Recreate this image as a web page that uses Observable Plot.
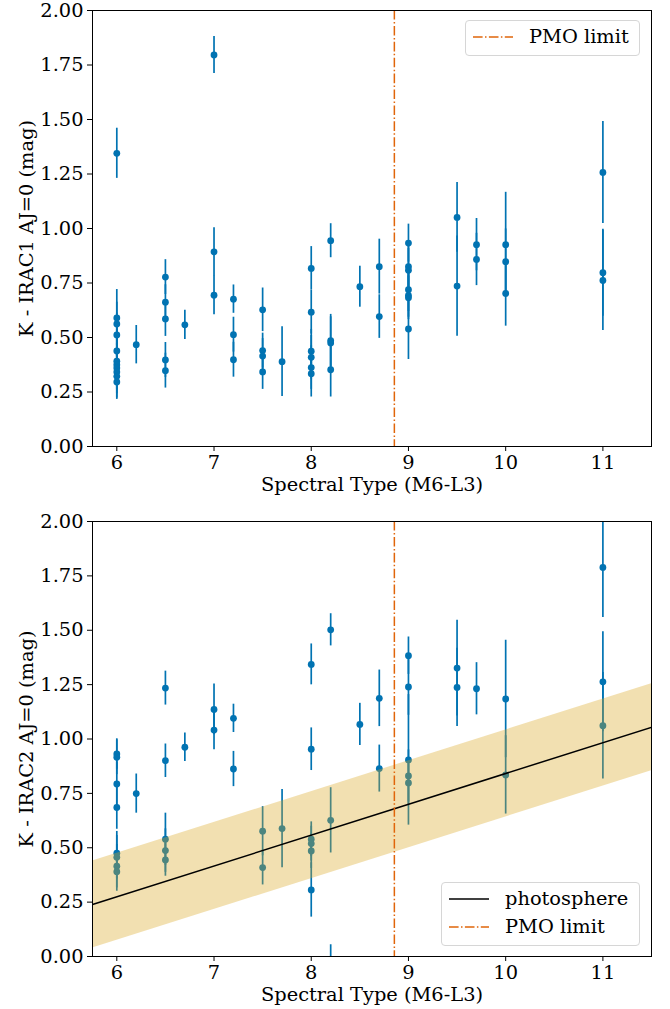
<!DOCTYPE html>
<html><head><meta charset="utf-8">
<script src="https://cdn.jsdelivr.net/npm/d3@7"></script>
<script src="https://cdn.jsdelivr.net/npm/@observablehq/plot@0.6"></script>
<style>
body{margin:0;background:#fff;}
#wrap{position:relative;width:670px;height:1009px;font-family:"DejaVu Serif","Liberation Serif",serif;}
#wrap svg{display:block;}
.legend{position:absolute;border:1px solid #d6d6d6;border-radius:4px;background:rgba(255,255,255,0.85);font-size:19.4px;color:#000;box-sizing:border-box;}
.legend .row{position:absolute;left:0;display:flex;align-items:center;white-space:nowrap;}
.legend svg{display:inline-block;}
</style></head><body><div id="wrap"></div>
<script>
// ---- data: top panel (K - IRAC1) ----
const irac1X   = [6,6,6,6,6,6,6,6,6,6,6, 6.2, 6.5,6.5,6.5,6.5,6.5, 6.7, 7,7,7, 7.2,7.2,7.2, 7.5,7.5,7.5,7.5, 7.7, 8,8,8,8,8,8, 8.2,8.2,8.2,8.2, 8.5, 8.7,8.7, 9,9,9,9,9,9,9, 9.5,9.5, 9.7,9.7, 10,10,10, 11,11,11];
const irac1Y   = [1.345,0.590,0.562,0.512,0.438,0.391,0.375,0.360,0.342,0.322,0.296, 0.467, 0.777,0.662,0.585,0.397,0.348, 0.558, 1.796,0.893,0.694, 0.676,0.513,0.398, 0.627,0.440,0.415,0.342, 0.389, 0.817,0.616,0.437,0.409,0.362,0.334, 0.944,0.486,0.475,0.352, 0.733, 0.825,0.596, 0.933,0.825,0.808,0.719,0.693,0.682,0.539, 1.051,0.736, 0.926,0.858, 0.926,0.848,0.702, 1.257,0.797,0.762];
const irac1Err = [0.115,0.13,0.10,0.10,0.10,0.10,0.10,0.10,0.10,0.10,0.08, 0.088, 0.08,0.08,0.08,0.08,0.08, 0.067, 0.085,0.11,0.09, 0.065,0.08,0.08, 0.10,0.08,0.08,0.08, 0.16, 0.10,0.10,0.10,0.10,0.10,0.107, 0.078,0.12,0.12,0.125, 0.094, 0.126,0.10, 0.087,0.10,0.10,0.10,0.10,0.10,0.14, 0.16,0.23, 0.12,0.12, 0.24,0.15,0.15, 0.234,0.20,0.23];

// ---- data: bottom panel (K - IRAC2) ----
const irac2X   = [6,6,6,6,6,6,6,6, 6.2, 6.5,6.5,6.5,6.5,6.5, 6.7, 7,7, 7.2,7.2, 7.5,7.5, 7.7, 8,8,8,8,8,8, 8.2,8.2,8.2, 8.5, 8.7,8.7, 9,9,9,9,9, 9.5,9.5, 9.7, 10,10, 11,11,11];
const irac2Y   = [0.931,0.916,0.793,0.685,0.475,0.456,0.415,0.390, 0.749, 1.234,0.900,0.539,0.487,0.444, 0.962, 1.136,1.041, 1.095,0.862, 0.576,0.409, 0.588, 1.343,0.953,0.539,0.519,0.485,0.306, 1.502,0.626,-0.10, 1.067, 1.187,0.864, 1.383,1.239,0.904,0.830,0.798, 1.326,1.237, 1.231, 1.184,0.835, 1.789,1.263,1.061];
const irac2Err = [0.07,0.08,0.10,0.10,0.10,0.10,0.10,0.09, 0.09, 0.078,0.077,0.12,0.10,0.075, 0.066, 0.117,0.09, 0.065,0.081, 0.113,0.08, 0.18, 0.094,0.098,0.08,0.08,0.08,0.125, 0.074,0.15,0.154, 0.097, 0.13,0.108, 0.086,0.13,0.30,0.12,0.10, 0.22,0.18, 0.12, 0.27,0.18, 0.23,0.23,0.245];

// photosphere relation and its band
const photX = [5.75, 11.5];
const photY = [0.239, 1.054];
const bandHalf = 0.2;

// PMO limit
const pmoLimit = [8.855];

const xTicks = [6,7,8,9,10,11];
const yTicks = [0,0.25,0.5,0.75,1,1.25,1.5,1.75,2];

const blue = "#0173b2";
const orange = "#e0650a";
const FONT = '"DejaVu Serif", "Liberation Serif", serif';
const FS = 19.4;

function panel({xs, ys, es, ylabel, height, marginTop, marginBottom, photo}) {
  const pts = xs.map((x,i) => ({x, y: ys[i], lo: ys[i]-es[i], hi: ys[i]+es[i]}));
  const phot = photX.map((x,i) => ({x, y: photY[i], y1: photY[i]-bandHalf, y2: photY[i]+bandHalf}));
  const fmtX = d3.format("d"), fmtY = d3.format(".2f");
  const marks = [
    Plot.ruleX(pts, {x:"x", y1:"lo", y2:"hi", stroke: blue, strokeWidth: 1.7, clip: true}),
    Plot.dot(pts, {x:"x", y:"y", r:3.4, fill: blue, clip: true}),
  ];
  if (photo) {
    marks.push(Plot.areaY(phot, {x:"x", y1:"y1", y2:"y2", fill:"goldenrod", fillOpacity:0.35, clip:true}));
    marks.push(Plot.line(phot, {x:"x", y:"y", stroke:"#000", strokeWidth:1.5, clip:true}));
  }
  marks.push(Plot.ruleX(pmoLimit, {stroke: orange, strokeWidth: 1.5, strokeDasharray: "9.6,2.4,1.5,2.4"}));
  marks.push(Plot.frame({stroke:"#000", strokeWidth: 1}));
  // tick marks + axis titles (tick text left empty; labels drawn below as text marks)
  marks.push(Plot.axisX({ticks: xTicks, tickFormat: () => "", tickSize: 5,
    label: "Spectral Type (M6-L3)", labelAnchor: "center", labelOffset: 44, labelArrow: "none",
    fontSize: FS, fontFamily: FONT}));
  marks.push(Plot.axisY({ticks: yTicks, tickFormat: () => "", tickSize: 5,
    label: ylabel, labelAnchor: "center", labelOffset: 73, labelArrow: "none",
    fontSize: FS, fontFamily: FONT}));
  // tick labels drawn as text marks through the scales
  marks.push(Plot.text(xTicks, {x: d => d, text: d => fmtX(d), frameAnchor: "bottom", lineAnchor: "top",
    dy: 9, fontSize: FS, fontFamily: FONT, fill: "#000"}));
  marks.push(Plot.text(yTicks, {y: d => d, text: d => fmtY(d), frameAnchor: "left", textAnchor: "end",
    dx: -9, fontSize: FS, fontFamily: FONT, fill: "#000"}));
  const svg = Plot.plot({
    width: 670, height, marginTop, marginBottom, marginLeft: 92, marginRight: 19,
    style: {fontFamily: FONT, fontSize: FS + "px", color: "#000", background: "#fff", overflow: "visible"},
    x: {domain: [5.75, 11.5]},
    y: {domain: [0, 2]},
    marks
  });
  d3.select(svg).selectAll("text")
    .style("font-family", FONT)
    .style("font-size", FS + "px")
    .style("font-variant", "normal");
  return svg;
}

const wrap = document.getElementById("wrap");
wrap.appendChild(panel({xs: irac1X, ys: irac1Y, es: irac1Err, ylabel: "K - IRAC1 AJ=0 (mag)", height: 505, marginTop: 10, marginBottom: 59, photo: false}));
wrap.appendChild(panel({xs: irac2X, ys: irac2Y, es: irac2Err, ylabel: "K - IRAC2 AJ=0 (mag)", height: 504, marginTop: 16, marginBottom: 53, photo: true}));

function sample(stroke, dash) {
  return `<svg width="40" height="10"><line x1="0" x2="40" y1="5" y2="5" stroke="${stroke}" stroke-width="1.5" ${dash ? `stroke-dasharray="${dash}"` : ""}/></svg>`;
}
function legend(left, top, w, h, rows) {
  const d = document.createElement("div");
  d.className = "legend";
  Object.assign(d.style, {left: left+"px", top: top+"px", width: w+"px", height: h+"px"});
  d.innerHTML = rows.map(r => `<div class="row" style="top:${r.top}px;left:7px">${sample(r.stroke, r.dash)}<span style="margin-left:16px">${r.text}</span></div>`).join("");
  wrap.appendChild(d);
}
legend(465, 20, 175, 36, [{top: 4, stroke: orange, dash: "9.6,2.4,1.5,2.4", text: "PMO limit"}]);
legend(441, 882, 199, 64, [
  {top: 4, stroke: "#000", dash: null, text: "photosphere"},
  {top: 32, stroke: orange, dash: "9.6,2.4,1.5,2.4", text: "PMO limit"}
]);
</script></body></html>
